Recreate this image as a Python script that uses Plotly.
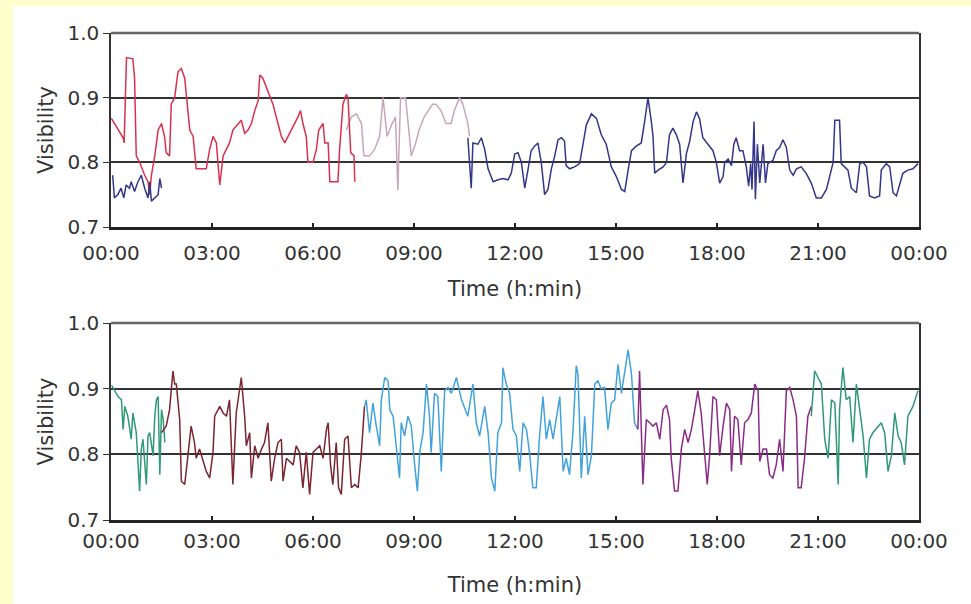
import plotly.graph_objects as go

# ---------------- data (time in hours, visibility) ----------------
tick_hours = [0, 3, 6, 9, 12, 15, 18, 21, 24]
tick_labels = ["00:00", "03:00", "06:00", "09:00", "12:00", "15:00", "18:00", "21:00", "00:00"]
y_ticks = [0.7, 0.8, 0.9, 1.0]

top_red = [(0.01,0.868),(0.36,0.838),(0.39,0.830),(0.46,0.962),(0.65,0.960),(0.70,0.930),(0.75,0.810),
           (0.85,0.800),(1.00,0.780),(1.10,0.770),(1.15,0.750),(1.20,0.780),(1.30,0.810),(1.40,0.850),
           (1.50,0.860),(1.59,0.840),(1.64,0.815),(1.74,0.810),(1.79,0.890),(1.89,0.900),(1.99,0.940),
           (2.09,0.945),(2.19,0.930),(2.26,0.890),(2.34,0.850),(2.44,0.840),(2.53,0.790),(2.68,0.790),
           (2.83,0.790),(2.93,0.820),(3.03,0.840),(3.13,0.830),(3.23,0.765),(3.33,0.810),(3.43,0.820),
           (3.52,0.830),(3.62,0.850),(3.77,0.860),(3.87,0.865),(3.97,0.845),(4.07,0.850),(4.17,0.860),
           (4.27,0.880),(4.37,0.895),(4.42,0.935),(4.51,0.930),(4.66,0.910),(4.81,0.890),(4.96,0.860),
           (5.06,0.840),(5.16,0.830),(5.31,0.845),(5.46,0.860),(5.55,0.870),(5.63,0.880),(5.70,0.860),
           (5.80,0.840),(5.85,0.800),(6.00,0.800),(6.10,0.820),(6.17,0.850),(6.30,0.860),(6.35,0.830),
           (6.45,0.830),(6.50,0.770),(6.64,0.770),(6.74,0.770),(6.79,0.820),(6.89,0.890),(6.99,0.905),
           (7.04,0.900),(7.12,0.815),(7.22,0.810),(7.24,0.770)]

top_navy_early = [(0.05,0.780),(0.10,0.745),(0.20,0.750),(0.30,0.760),(0.38,0.745),(0.45,0.765),
                  (0.55,0.760),(0.60,0.770),(0.70,0.755),(0.80,0.770),(0.90,0.780),(1.00,0.760),
                  (1.10,0.745),(1.15,0.770),(1.20,0.740),(1.30,0.745),(1.40,0.750),(1.45,0.775),(1.50,0.760)]

top_pale = [(6.99,0.850),(7.14,0.870),(7.29,0.875),(7.44,0.860),(7.51,0.810),(7.68,0.810),(7.83,0.820),
            (7.98,0.840),(8.08,0.900),(8.20,0.840),(8.35,0.860),(8.45,0.870),(8.52,0.757),(8.60,0.900),
            (8.75,0.900),(8.85,0.850),(8.92,0.810),(9.05,0.830),(9.15,0.850),(9.30,0.870),(9.42,0.880),
            (9.55,0.890),(9.65,0.890),(9.80,0.880),(9.95,0.860),(10.10,0.860),(10.20,0.880),(10.35,0.900),
            (10.45,0.890),(10.60,0.860),(10.65,0.840)]

top_navy = [(10.60,0.838),(10.70,0.760),(10.75,0.830),(10.90,0.828),(11.00,0.838),(11.10,0.820),
            (11.20,0.790),(11.35,0.770),(11.50,0.773),(11.64,0.775),(11.79,0.773),(11.89,0.783),
            (11.99,0.813),(12.09,0.815),(12.19,0.800),(12.29,0.760),(12.39,0.790),(12.48,0.818),
            (12.58,0.825),(12.68,0.830),(12.78,0.800),(12.88,0.750),(12.98,0.758),(13.08,0.790),
            (13.18,0.810),(13.28,0.835),(13.38,0.838),(13.47,0.833),(13.52,0.795),(13.62,0.790),
            (13.77,0.793),(13.92,0.798),(14.02,0.828),(14.12,0.858),(14.27,0.875),(14.42,0.868),
            (14.56,0.843),(14.71,0.828),(14.86,0.793),(15.01,0.778),(15.16,0.758),(15.26,0.755),
            (15.36,0.788),(15.46,0.818),(15.60,0.825),(15.75,0.830),(15.85,0.863),(15.95,0.900),
            (16.05,0.863),(16.10,0.840),(16.15,0.783),(16.25,0.788),(16.40,0.793),(16.50,0.800),
            (16.59,0.843),(16.69,0.853),(16.79,0.843),(16.89,0.828),(16.99,0.768),(17.09,0.813),
            (17.19,0.833),(17.29,0.863),(17.39,0.878),(17.48,0.868),(17.58,0.838),(17.73,0.828),
            (17.88,0.818),(17.98,0.800),(18.08,0.768),(18.18,0.778),(18.23,0.800),(18.33,0.805),
            (18.43,0.795),(18.50,0.828),(18.57,0.838),(18.67,0.818),(18.77,0.818),(18.87,0.793),
            (18.94,0.763),(19.00,0.798),(19.04,0.758),(19.10,0.863),(19.14,0.743),(19.20,0.828),
            (19.27,0.768),(19.37,0.828),(19.44,0.768),(19.51,0.798),(19.66,0.803),(19.76,0.818),
            (19.86,0.823),(19.96,0.835),(20.06,0.823),(20.16,0.788),(20.26,0.780),(20.36,0.790),
            (20.50,0.793),(20.65,0.783),(20.80,0.768),(20.95,0.745),(21.10,0.745),(21.25,0.758),
            (21.35,0.778),(21.45,0.800),(21.50,0.865),(21.64,0.865),(21.69,0.798),(21.79,0.793),
            (21.89,0.788),(21.99,0.760),(22.14,0.753),(22.24,0.798),(22.34,0.800),(22.44,0.793),
            (22.53,0.748),(22.68,0.745),(22.83,0.748),(22.88,0.788),(23.03,0.798),(23.13,0.793),
            (23.23,0.753),(23.33,0.748),(23.43,0.768),(23.52,0.783),(23.67,0.788),(23.82,0.790),
            (23.97,0.798)]

bot_green_early = [(0.02,0.905),(0.10,0.898),(0.21,0.888),(0.31,0.883),(0.36,0.838),(0.41,0.873),
                   (0.50,0.858),(0.60,0.823),(0.65,0.863),(0.75,0.833),(0.85,0.744),(0.90,0.808),
                   (0.95,0.823),(1.05,0.754),(1.10,0.828),(1.15,0.833),(1.25,0.798),(1.30,0.858),
                   (1.35,0.883),(1.40,0.888),(1.45,0.769),(1.50,0.868),(1.55,0.853),(1.60,0.818)]

bot_brown = [(1.50,0.833),(1.64,0.843),(1.74,0.868),(1.84,0.927),(1.89,0.907),(1.94,0.907),(2.04,0.853),
             (2.09,0.759),(2.19,0.754),(2.29,0.798),(2.38,0.843),(2.48,0.818),(2.53,0.794),(2.63,0.808),
             (2.73,0.789),(2.83,0.774),(2.93,0.764),(3.03,0.803),(3.08,0.858),(3.23,0.873),(3.33,0.863),
             (3.43,0.858),(3.52,0.883),(3.62,0.754),(3.72,0.863),(3.82,0.900),(3.87,0.917),(3.97,0.858),
             (4.02,0.813),(4.12,0.833),(4.17,0.764),(4.27,0.813),(4.37,0.794),(4.47,0.808),(4.56,0.818),
             (4.66,0.848),(4.76,0.759),(4.86,0.794),(4.96,0.818),(5.06,0.823),(5.11,0.759),(5.21,0.794),
             (5.31,0.789),(5.41,0.784),(5.50,0.813),(5.60,0.803),(5.70,0.749),(5.80,0.803),(5.90,0.739),
             (6.00,0.803),(6.10,0.808),(6.20,0.813),(6.30,0.794),(6.40,0.838),(6.45,0.848),(6.52,0.784),
             (6.59,0.754),(6.69,0.818),(6.76,0.749),(6.84,0.739),(6.94,0.823),(7.04,0.828),(7.14,0.749),
             (7.24,0.754),(7.34,0.749),(7.43,0.798),(7.53,0.873)]

bot_lightblue = [(7.53,0.873),(7.58,0.883),(7.68,0.833),(7.78,0.878),(7.88,0.843),(7.98,0.813),
                 (8.03,0.883),(8.13,0.917),(8.23,0.912),(8.28,0.868),(8.38,0.858),(8.47,0.818),
                 (8.57,0.764),(8.62,0.848),(8.72,0.828),(8.82,0.858),(8.92,0.843),(9.02,0.784),
                 (9.10,0.744),(9.17,0.803),(9.27,0.833),(9.37,0.907),(9.46,0.858),(9.51,0.803),
                 (9.61,0.893),(9.71,0.888),(9.81,0.774),(9.91,0.897),(10.01,0.902),(10.11,0.893),
                 (10.26,0.917),(10.41,0.883),(10.60,0.858),(10.75,0.907),(10.85,0.848),(10.95,0.828),
                 (11.10,0.873),(11.20,0.833),(11.30,0.764),(11.40,0.744),(11.49,0.833),(11.60,0.848),
                 (11.64,0.932),(11.74,0.907),(11.84,0.893),(11.94,0.838),(12.04,0.828),(12.14,0.774),
                 (12.24,0.848),(12.34,0.838),(12.43,0.803),(12.53,0.749),(12.63,0.749),(12.73,0.828),
                 (12.83,0.888),(12.93,0.823),(13.03,0.853),(13.13,0.823),(13.23,0.858),(13.33,0.888),
                 (13.43,0.774),(13.52,0.794),(13.62,0.769),(13.72,0.833),(13.82,0.935),(13.87,0.922),
                 (13.97,0.764),(14.07,0.858),(14.17,0.769),(14.27,0.798),(14.37,0.907),(14.46,0.912),
                 (14.56,0.900),(14.66,0.902),(14.76,0.838),(14.86,0.878),(14.96,0.883),(15.06,0.937),
                 (15.16,0.893),(15.26,0.927),(15.36,0.959),(15.46,0.922),(15.55,0.848),(15.65,0.838)]

bot_purple = [(15.65,0.838),(15.70,0.927),(15.80,0.754),(15.90,0.853),(16.00,0.848),(16.10,0.843),
              (16.20,0.848),(16.30,0.823),(16.40,0.868),(16.50,0.875),(16.59,0.853),(16.64,0.794),
              (16.74,0.744),(16.84,0.744),(16.94,0.808),(17.04,0.838),(17.14,0.818),(17.24,0.838),
              (17.34,0.868),(17.43,0.897),(17.53,0.863),(17.63,0.798),(17.71,0.754),(17.78,0.798),
              (17.88,0.888),(17.98,0.883),(18.08,0.798),(18.18,0.843),(18.28,0.878),(18.38,0.868),
              (18.43,0.774),(18.52,0.858),(18.62,0.853),(18.72,0.784),(18.82,0.848),(18.92,0.853),
              (19.02,0.863),(19.12,0.907),(19.22,0.897),(19.27,0.789),(19.37,0.808),(19.47,0.808),
              (19.56,0.769),(19.66,0.764),(19.76,0.784),(19.86,0.823),(19.96,0.774),(20.06,0.897),
              (20.16,0.902),(20.26,0.883),(20.36,0.858),(20.41,0.749),(20.50,0.749),(20.60,0.794),
              (20.70,0.858),(20.80,0.873)]

bot_green_late = [(20.80,0.858),(20.90,0.927),(21.00,0.917),(21.10,0.907),(21.20,0.823),(21.30,0.794),
                  (21.40,0.883),(21.50,0.878),(21.60,0.754),(21.64,0.868),(21.74,0.932),(21.84,0.883),
                  (21.94,0.888),(22.04,0.818),(22.14,0.907),(22.24,0.863),(22.34,0.828),(22.44,0.764),
                  (22.53,0.823),(22.63,0.833),(22.78,0.843),(22.88,0.848),(22.98,0.833),(23.08,0.774),
                  (23.18,0.798),(23.28,0.863),(23.38,0.828),(23.47,0.818),(23.57,0.784),(23.67,0.858),
                  (23.82,0.873),(23.97,0.897)]

# ---------------- figure ----------------
FONT = "DejaVu Sans"
TXT = "#333333"

fig = go.Figure()

def add(series, color, xa, ya, width=1.5):
    xs = [p[0] for p in series]
    ys = [p[1] for p in series]
    fig.add_trace(go.Scatter(x=xs, y=ys, mode="lines", xaxis=xa, yaxis=ya,
                             line=dict(color=color, width=width), showlegend=False,
                             hoverinfo="skip"))

add(top_pale, "#c8a6b8", "x", "y")
add(top_red, "#d8314f", "x", "y")
add(top_navy_early, "#34378a", "x", "y")
add(top_navy, "#33368a", "x", "y")

add(bot_green_early, "#2f9a74", "x2", "y2")
add(bot_brown, "#7b2530", "x2", "y2")
add(bot_lightblue, "#42a3dc", "x2", "y2")
add(bot_purple, "#8a2c86", "x2", "y2")
add(bot_green_late, "#2f9a74", "x2", "y2")

W, H = 971, 604
xdom = [111 / W, 919 / W]
top_dom = [1 - 227 / H, 1 - 33 / H]
bot_dom = [1 - 520 / H, 1 - 323 / H]

def xaxis(dom, anchor, label_gap, title_gap):
    return dict(domain=dom, anchor=anchor, range=[0, 24], tickvals=tick_hours, ticktext=tick_labels,
                showgrid=False, zeroline=False, showline=True, linecolor="#222222", linewidth=3,
                ticks="inside", ticklen=4, tickcolor="#222222", tickwidth=1.5, automargin=False,
                ticklabelstandoff=label_gap,
                tickfont=dict(family=FONT, size=20, color=TXT),
                title=dict(text="Time (h:min)", font=dict(family=FONT, size=21, color=TXT),
                           standoff=title_gap))

def yaxis(dom, anchor):
    return dict(domain=dom, anchor=anchor, range=[0.7, 1.0], tickvals=y_ticks, tickformat=".1f",
                showgrid=True, gridcolor="#333333", gridwidth=1.5, zeroline=False,
                showline=True, linecolor="#333333", linewidth=1.5, mirror=True,
                ticks="outside", ticklen=6, tickcolor="#333333", tickwidth=1.2, automargin=False,
                tickfont=dict(family=FONT, size=20, color=TXT),
                title=dict(text="Visibility", font=dict(family=FONT, size=21, color=TXT), standoff=8))

fig.update_layout(
    width=W, height=H,
    margin=dict(l=0, r=0, t=0, b=0, autoexpand=False),
    paper_bgcolor="#ffffcc",
    plot_bgcolor="#ffffff",
    xaxis=xaxis(xdom, "y", 6, 18),
    yaxis=yaxis(top_dom, "x"),
    xaxis2=xaxis(xdom, "y2", 1, 26),
    yaxis2=yaxis(bot_dom, "x2"),
    shapes=[
        dict(type="rect", xref="paper", yref="paper", x0=13 / W, x1=1, y0=0, y1=1 - 6 / H,
             fillcolor="#ffffff", line=dict(width=0), layer="below"),
        dict(type="line", xref="x domain", yref="y domain", x0=0, x1=1, y0=1, y1=1,
             line=dict(color="#666666", width=2.5)),
        dict(type="line", xref="x2 domain", yref="y2 domain", x0=0, x1=1, y0=1, y1=1,
             line=dict(color="#666666", width=2.5)),
    ],
)

fig.write_html("out.html", config={"displayModeBar": False},
               post_script="document.body.style.margin='0';document.body.style.overflow='hidden';")
